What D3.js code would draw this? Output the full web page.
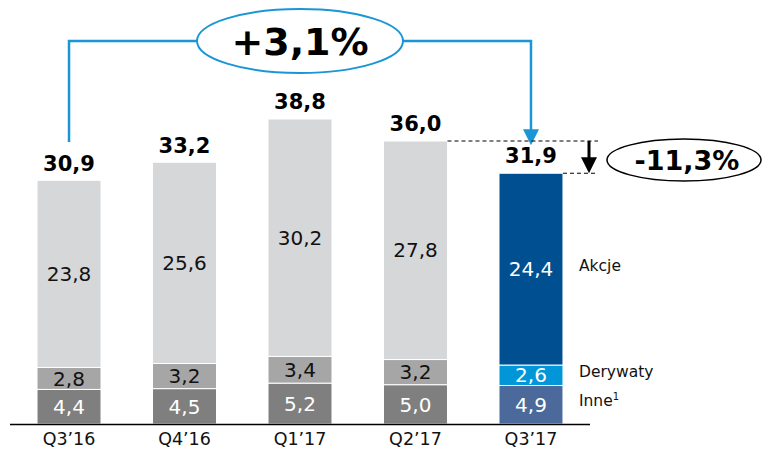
<!DOCTYPE html>
<meta charset="utf-8">
<script src="https://d3js.org/d3.v7.min.js"></script>
<style>
  body { margin: 0; background: #fff; }
  text { font-family: "DejaVu Sans", Verdana, sans-serif; }
</style>
<div id="chart"></div>
<script>
  const w = 763, h = 453
  const quarters = ["Q3’16", "Q4’16", "Q1’17", "Q2’17", "Q3’17"]
  const inne = [4.4, 4.5, 5.2, 5.0, 4.9]
  const derywaty = [2.8, 3.2, 3.4, 3.2, 2.6]
  const akcje = [23.8, 25.6, 30.2, 27.8, 24.4]
  const totals = [30.9, 33.2, 38.8, 36.0, 31.9]
  const seriesNames = ["Inne", "Derywaty", "Akcje"]
  const changeYoY = "+3,1%"
  const changeQoQ = "-11,3%"

  const greys = ["#7f7f7f", "#a6a6a6", "#d6d7d9"]
  const blues = ["#4b6a9b", "#0096d8", "#004f90"]
  const lineBlue = "#1a96d6"
  const fmt = v => v.toFixed(1).replace(".", ",")

  const rows = quarters.map((q, i) => ({ q, Inne: inne[i], Derywaty: derywaty[i], Akcje: akcje[i], total: totals[i] }))
  const stack = d3.stack().keys(seriesNames)(rows)

  const x = d3.scaleBand().domain(quarters).range([10, 590]).paddingInner(0.446).paddingOuter(0.234)
  const y = d3.scaleLinear().domain([0, 38.8]).range([424, 119])

  const svg = d3.select("#chart").append("svg").attr("width", w).attr("height", h)

  const last = quarters.length - 1
  const colorOf = (k, i) => (i === last ? blues : greys)[k]

  // bars
  stack.forEach((layer, k) => {
    svg.append("g").selectAll("rect")
      .data(layer)
      .join("rect")
        .attr("x", d => x(d.data.q))
        .attr("width", x.bandwidth())
        .attr("y", d => y(d[1]))
        .attr("height", d => y(d[0]) - y(d[1]))
        .attr("fill", (d, i) => colorOf(k, i))
        .attr("stroke", "#fff")
        .attr("stroke-width", 1)

    svg.append("g").selectAll("text")
      .data(layer)
      .join("text")
        .attr("x", d => x(d.data.q) + x.bandwidth() / 2)
        .attr("y", d => (y(d[0]) + y(d[1])) / 2)
        .attr("dy", "0.36em")
        .attr("text-anchor", "middle")
        .attr("font-size", "20px")
        .attr("fill", (d, i) => (k === 0 || i === last) ? "#fff" : "#111")
        .text(d => fmt(d[1] - d[0]))
  })

  // totals
  svg.append("g").selectAll("text")
    .data(rows)
    .join("text")
      .attr("x", d => x(d.q) + x.bandwidth() / 2)
      .attr("y", d => y(d.total) - 10)
      .attr("text-anchor", "middle")
      .attr("font-size", "21px")
      .attr("font-weight", "bold")
      .attr("fill", "#000")
      .text(d => fmt(d.total))

  // axis
  const axis = svg.append("g")
    .attr("transform", `translate(0,${y(0)})`)
    .call(d3.axisBottom(x).tickSize(0).tickPadding(9))
  axis.select(".domain").attr("d", "M10,0.5H590").attr("stroke", "#000").attr("stroke-width", 1.5)
  axis.selectAll("text").attr("font-size", "17.5px").attr("fill", "#111")
    .attr("font-family", "\"DejaVu Sans\", Verdana, sans-serif")

  // series labels on the right
  const lastStack = stack.map(l => l[last])
  const labelX = x(quarters[last]) + x.bandwidth() + 16
  svg.append("g").selectAll("text")
    .data(lastStack)
    .join("text")
      .attr("x", labelX)
      .attr("y", d => (y(d[0]) + y(d[1])) / 2 - 4)
      .attr("dy", "0.36em")
      .attr("font-size", "15.5px")
      .attr("fill", "#111")
      .each(function (d, k) {
        const t = d3.select(this)
        t.append("tspan").text(seriesNames[k])
        if (seriesNames[k] === "Inne") {
          t.append("tspan").attr("font-size", "10px").attr("dy", "-0.6em").text("1")
        }
      })

  // +3,1% bracket
  const cx0 = x(quarters[0]) + x.bandwidth() / 2
  const cx1 = x(quarters[last]) + x.bandwidth() / 2
  const topY = 41
  const ex = (cx0 + cx1) / 2, erx = 103, ery = 32
  svg.append("path")
    .attr("d", `M${cx0},${y(totals[0]) - 39}V${topY}H${ex - erx}M${ex + erx},${topY}H${cx1}V${y(totals[last]) - 40}`)
    .attr("fill", "none").attr("stroke", lineBlue).attr("stroke-width", 2.5)
  svg.append("path")
    .attr("d", `M${cx1 - 8},${y(totals[last]) - 44}L${cx1 + 8},${y(totals[last]) - 44}L${cx1},${y(totals[last]) - 28}Z`)
    .attr("fill", lineBlue)
  svg.append("ellipse")
    .attr("cx", ex).attr("cy", topY).attr("rx", erx).attr("ry", ery)
    .attr("fill", "#fff").attr("stroke", lineBlue).attr("stroke-width", 2)
  svg.append("text")
    .attr("x", ex).attr("y", topY).attr("dy", "0.36em")
    .attr("text-anchor", "middle")
    .attr("font-size", "38px").attr("font-weight", "bold")
    .text(changeYoY)

  // -11,3% marker
  const prevTop = y(totals[last - 1]), curTop = y(totals[last])
  const dashEnd = 598, arrowX = 589
  svg.append("path")
    .attr("d", `M${x(quarters[last - 1]) + x.bandwidth()},${prevTop}H${dashEnd}M${x(quarters[last]) + x.bandwidth()},${curTop}H${dashEnd}`)
    .attr("stroke", "#000").attr("stroke-width", 1).attr("stroke-dasharray", "4,3")
  svg.append("path")
    .attr("d", `M${arrowX},${prevTop}V${curTop - 14}`)
    .attr("stroke", "#000").attr("stroke-width", 3)
  svg.append("path")
    .attr("d", `M${arrowX - 8},${curTop - 16}L${arrowX + 8},${curTop - 16}L${arrowX},${curTop}Z`)
    .attr("fill", "#000")
  svg.append("ellipse")
    .attr("cx", 684).attr("cy", 160).attr("rx", 77).attr("ry", 21)
    .attr("fill", "#fff").attr("stroke", "#000").attr("stroke-width", 1.5)
  svg.append("text")
    .attr("x", 687).attr("y", 160).attr("dy", "0.36em")
    .attr("text-anchor", "middle")
    .attr("font-size", "27px").attr("font-weight", "bold")
    .text(changeQoQ)
</script>
